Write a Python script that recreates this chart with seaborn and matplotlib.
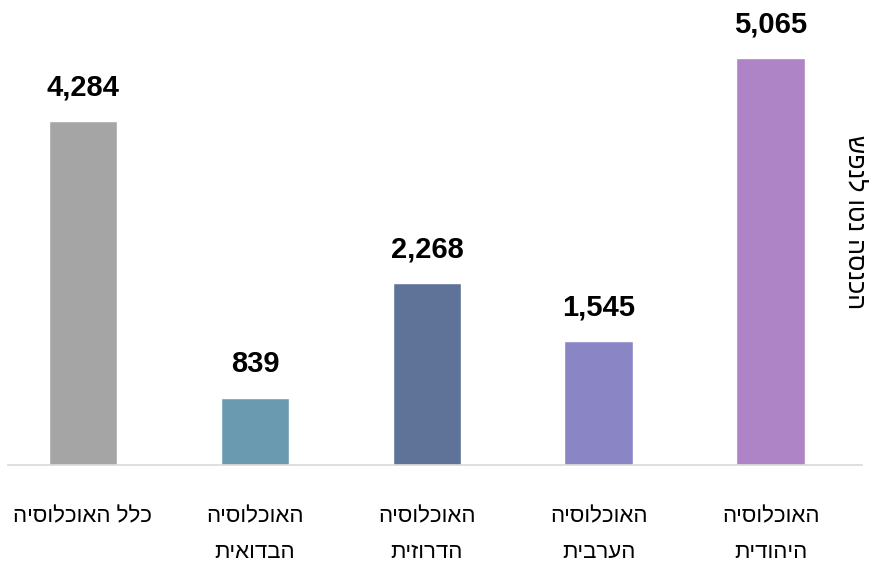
import matplotlib
matplotlib.use("Agg")
import matplotlib.pyplot as plt
import seaborn as sns
import pandas as pd

# data
categories = ["כלל האוכלוסיה", "האוכלוסיה\nהבדואית", "האוכלוסיה\nהדרוזית",
              "האוכלוסיה\nהערבית", "האוכלוסיה\nהיהודית"]
values = [4284, 839, 2268, 1545, 5065]
bar_colors = ["#a5a5a5", "#6a9ab0", "#5f7399", "#8a86c6", "#ae84c6"]
y_title = "הכנסה נטו לנפש"


def rtl(s):
    # matplotlib has no bidi support, so flip each line by hand
    return "\n".join(line[::-1] for line in s.split("\n"))


sns.set_theme(style="white")
plt.rcParams['font.family'] = ['Liberation Sans Narrow', 'Liberation Sans', 'DejaVu Sans']
plt.rcParams['text.color'] = 'black'
plt.rcParams['xtick.color'] = 'black'

df = pd.DataFrame({"cat": [rtl(c) for c in categories], "val": values})

fig = plt.figure(figsize=(8.69, 5.69), dpi=100)
W, H = 869, 569
ax = fig.add_axes([8 / W, (H - 465) / H, (862 - 8) / W, (465 - 10) / H])

sns.barplot(data=df, x="cat", y="val", hue="cat", palette=bar_colors,
            legend=False, width=0.4, saturation=1, ax=ax)

ax.set_xlim(-0.436, 4.53)
ax.set_ylim(0, 5662)
ax.set_yticks([])
ax.set_xlabel("")
ax.set_ylabel("")
for side in ["top", "left", "right"]:
    ax.spines[side].set_visible(False)
ax.spines["bottom"].set_color("#d9d9d9")
ax.spines["bottom"].set_linewidth(1.2)
ax.tick_params(axis="x", length=0, pad=30, labelsize=16, labelcolor="black")
for lab in ax.get_xticklabels():
    lab.set_verticalalignment("top")
    lab.set_linespacing(1.9)

for i, v in enumerate(values):
    ax.annotate(f"{v:,}", (i, v), xytext=(0, 14), textcoords="offset points",
                ha="center", va="bottom", fontsize=21, fontweight="bold", color="black")

fig.text(856 / W, 1 - 222 / H, rtl(y_title), rotation=270, ha="center", va="center",
         fontsize=18, color="black")

fig.savefig("out.png", dpi=100, facecolor="white")
